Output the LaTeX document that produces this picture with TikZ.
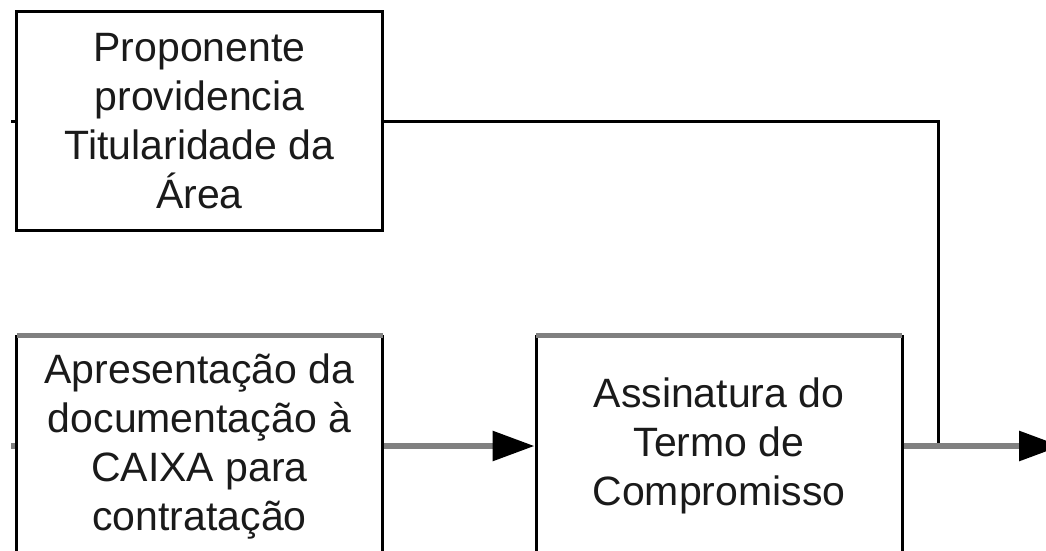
\documentclass[tikz,border=0pt]{standalone}
\usepackage{fontspec}
\setmainfont{Liberation Sans}
\usetikzlibrary{arrows.meta}
\definecolor{linegray}{HTML}{808080}
\definecolor{textcol}{HTML}{1A1A1A}
\begin{document}
\begin{tikzpicture}[x=1pt,y=1pt,
  procbox/.style={draw=black, line width=3pt, minimum width=366pt, minimum height=219pt,
    inner sep=0pt, align=center, text=textcol, font=\fontsize{41}{49}\selectfont},
  blackline/.style={draw=black, line width=3pt},
  grayline/.style={draw=linegray, line width=6pt},
  grayedge/.style={draw=linegray, line width=5pt, shorten <=1.5pt, shorten >=1.5pt},
  arrowtip/.style={-{Triangle[length=42pt,width=29pt,black]}}
]
\useasboundingbox (0,0) rectangle (1046,-551);
\clip (0,0) rectangle (1046,-551);

\node[procbox] (top) at (199.5,-121) {Proponente\\providencia\\Titularidade da\\Área};
\node[procbox] (bl) at (199.5,-446) {Apresentação da\\documentação à\\CAIXA para\\contratação};
\node[procbox] (mid) at (719,-446) {Assinatura do\\Termo de\\Compromisso};

\draw[grayedge] (bl.north west) -- (bl.north east);
\draw[grayedge] (mid.north west) -- (mid.north east);

\coordinate (stubtop) at (11,-121);
\coordinate (stubbl) at (11,-446);
\coordinate (junc) at (938.5,-446);
\coordinate (out) at (1061,-446);

\draw[blackline] (stubtop) -- (top.west);
\draw[blackline] (top.east) -| (junc);
\draw[grayline] (stubbl) -- (bl.west);
\draw[grayline, arrowtip] (bl.east) -- (mid.west);
\draw[grayline, arrowtip] (mid.east) -- (out);
\end{tikzpicture}
\end{document}
